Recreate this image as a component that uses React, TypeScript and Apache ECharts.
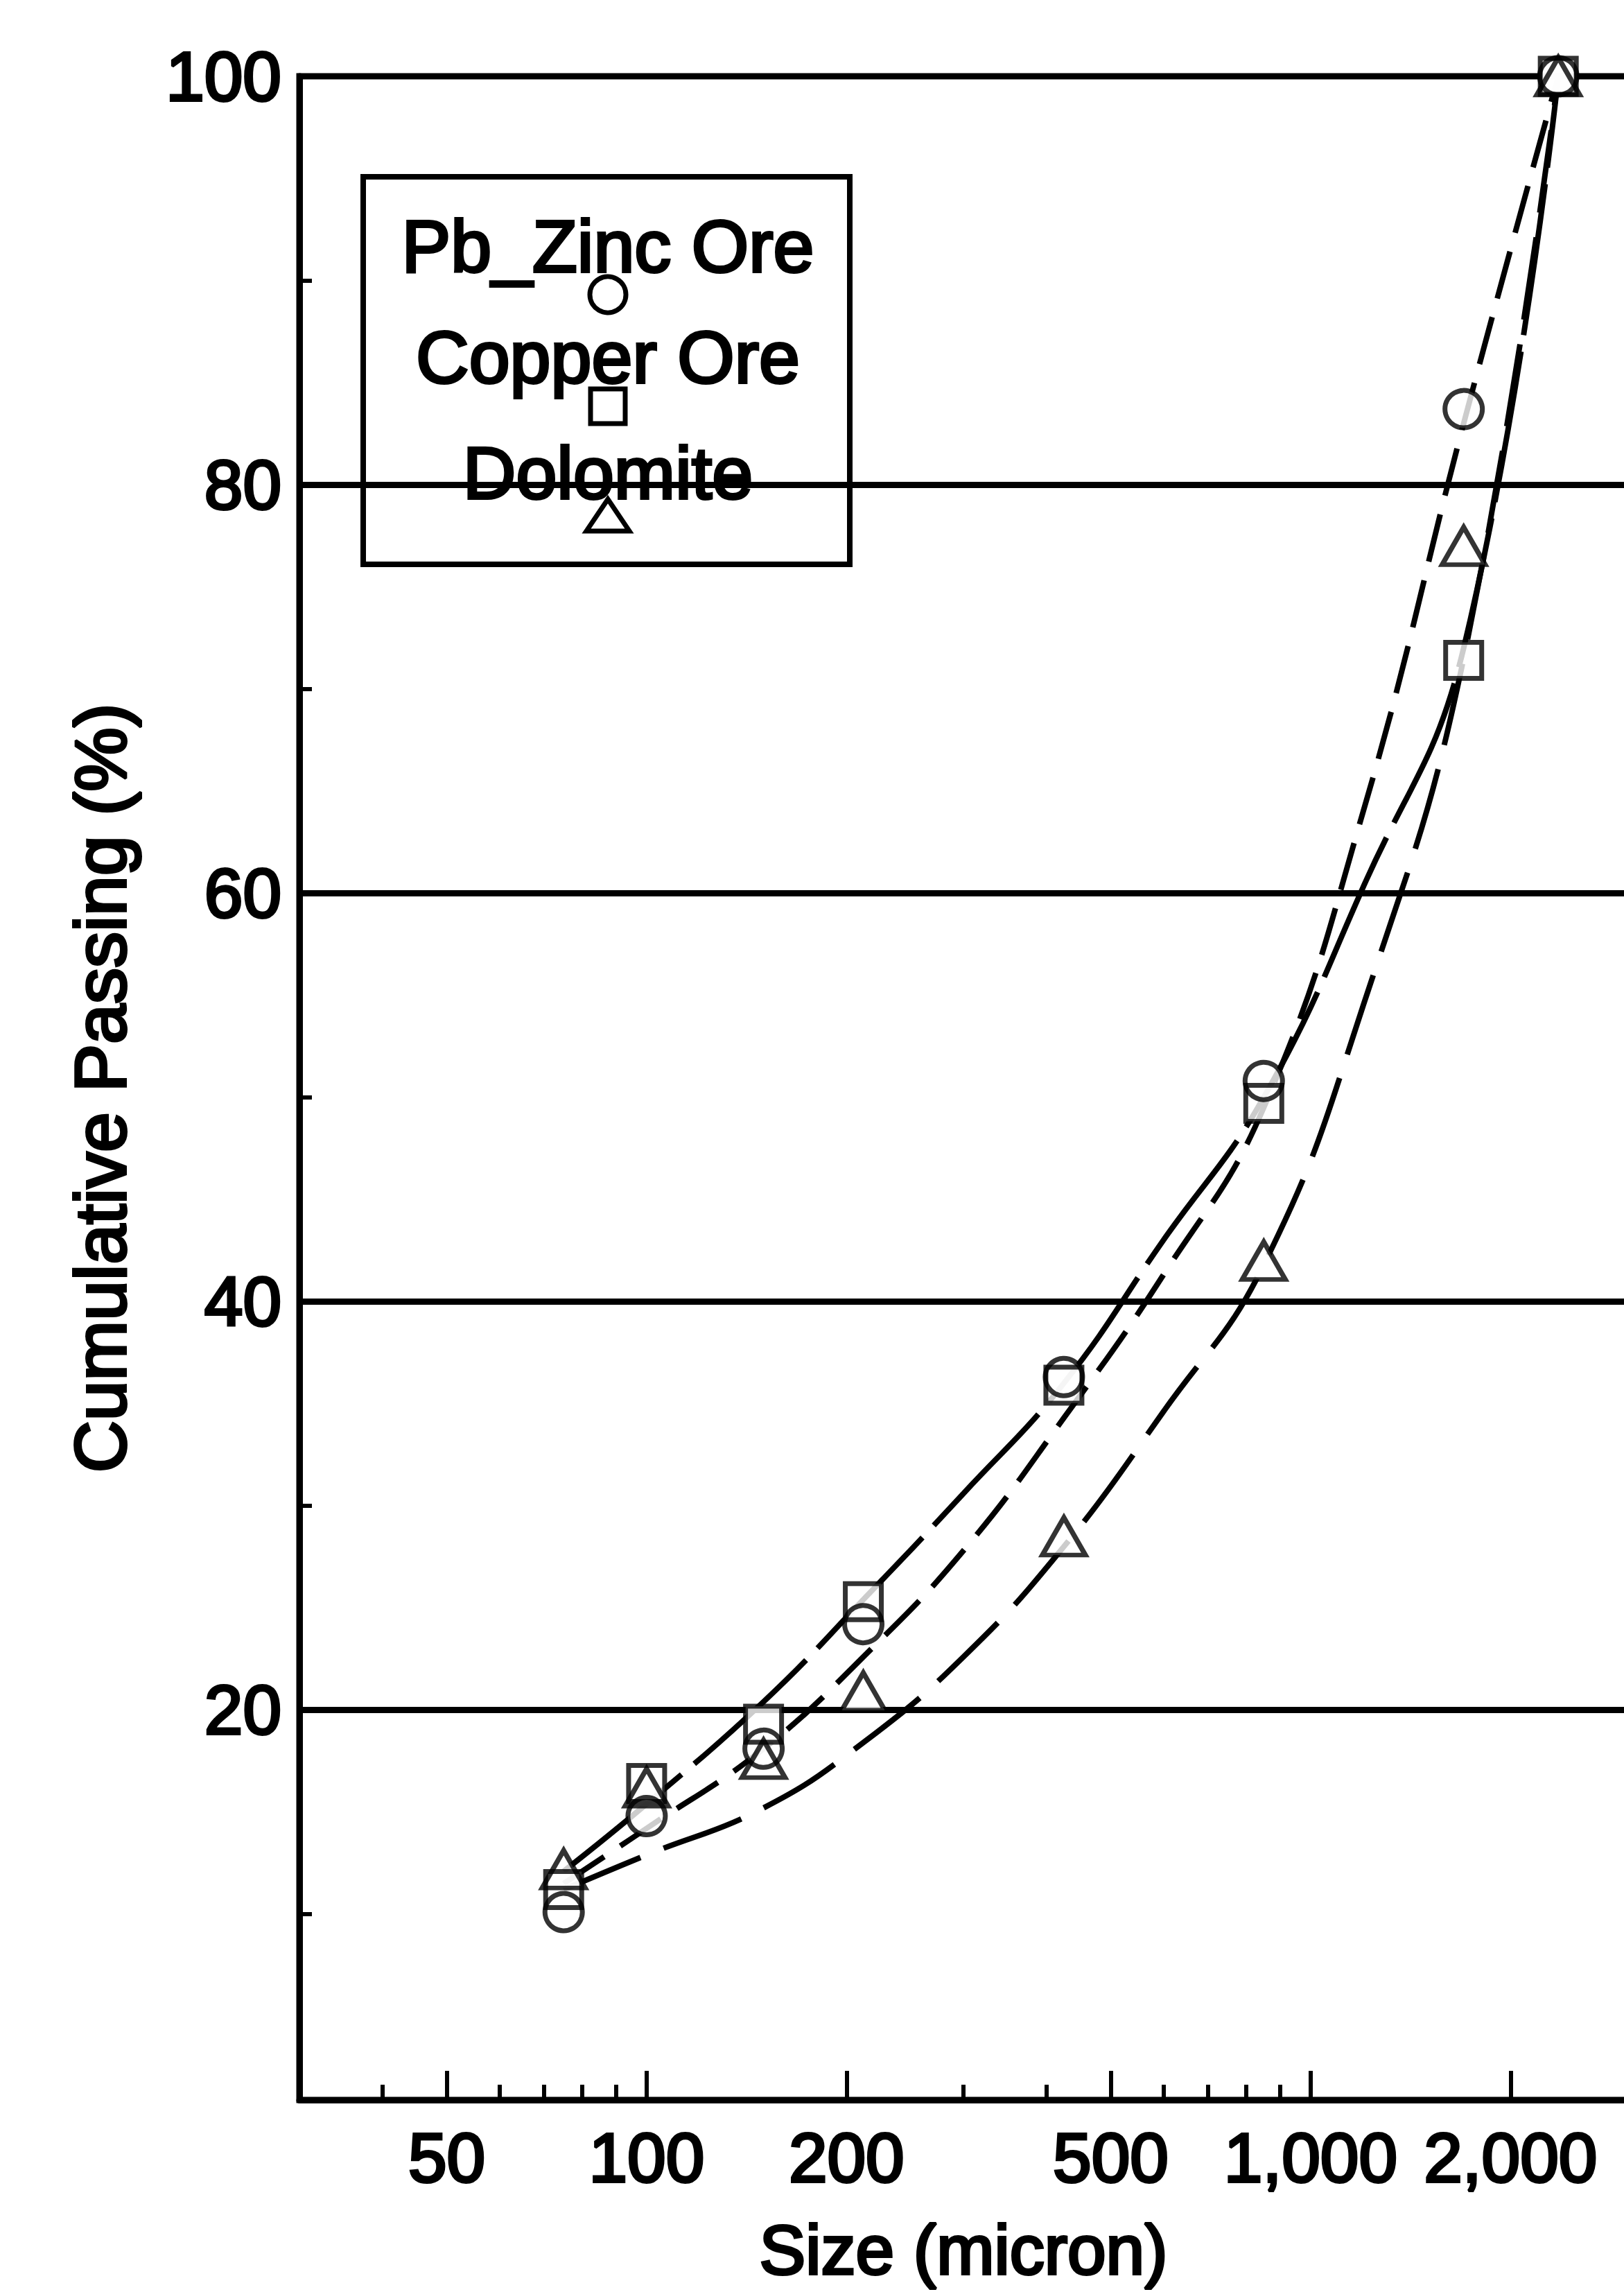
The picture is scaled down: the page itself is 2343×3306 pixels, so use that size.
import React, { useEffect, useRef } from 'react';
import * as echarts from 'echarts';

const sizes = [75, 100, 150, 212, 425, 850, 1700, 2360];
const pbZinc = [10.1, 14.8, 18.1, 24.2, 36.3, 50.8, 83.7, 100];
const copper = [11.2, 16.4, 19.3, 25.3, 35.9, 49.7, 71.4, 100];
const dolomite = [12.2, 16.2, 17.6, 20.9, 28.5, 42.0, 77.0, 100];

// ---- fitted curves ----
const curveSizes = [75, 100, 150, 212, 300, 425, 600, 850, 1200, 1700, 2360];
const pbZincCurve = [11.5, 14.2, 18.1, 22.6, 27.8, 34.3, 41.3, 49.5, 64.0, 83.0, 100];
const copperCurve = [12.1, 15.4, 20.4, 25.4, 30.6, 36.0, 43.0, 50.0, 60.3, 72.0, 100];
const dolomiteCurve = [11.2, 12.9, 15.2, 18.4, 22.6, 28.0, 34.6, 41.8, 54.5, 71.5, 100];

const seriesNames = ['Pb_Zinc Ore', 'Copper Ore', 'Dolomite'];
const xLabelValues = [50, 100, 200, 500, 1000, 2000];
const xMinorTicks = [40, 60, 70, 80, 90, 300, 400, 600, 700, 800, 900];
const yLabelValues = [20, 40, 60, 80, 100];
const yMinorTicks = [10, 30, 50, 70, 90];
const gridLineValues = [20, 40, 60, 80];

const FONT = '"Liberation Sans", Arial, Helvetica, sans-serif';
const W = 2343;
const H = 3306;

const textBase = {
  color: '#000',
  fontFamily: FONT,
  fontSize: 100,
  textBorderColor: '#000',
  textBorderWidth: 4,
};

function fmt(v: number) {
  const n = Math.round(Number(v));
  return n.toString().replace(/\B(?=(\d{3})+(?!\d))/g, ',');
}

export default function App() {
  const ref = useRef<HTMLDivElement>(null);

  useEffect(() => {
    if (!ref.current) return;
    const chart = echarts.init(ref.current, undefined, { renderer: 'svg', width: W, height: H });

    const pointData = [pbZinc, copper, dolomite];
    const curveData = [pbZincCurve, copperCurve, dolomiteCurve];
    const symbols = ['circle', 'rect', 'triangle'];
    const symbolSizes: any[] = [54, 52, [62, 54]];
    const dashes: any[] = [[70, 28], [220, 24], [120, 36]];

    const lineSeries = curveData.map((arr, i) => ({
      name: seriesNames[i],
      type: 'line',
      xAxisIndex: 0,
      yAxisIndex: 0,
      data: curveSizes.map((s, j) => [s, arr[j]]),
      showSymbol: false,
      symbol: 'none',
      smooth: 0.45,
      lineStyle: { color: '#000', width: 8, type: dashes[i] },
      z: 2,
      silent: true,
      ...(i === 0
        ? {
            markLine: {
              silent: true,
              symbol: ['none', 'none'],
              label: { show: false },
              lineStyle: { color: '#000', width: 9, type: 'solid' },
              data: gridLineValues.map((v) => ({ yAxis: v })),
              z: 1,
            },
          }
        : {}),
    }));

    const maskSeries = pointData.map((arr, i) => ({
      name: seriesNames[i] + ' mask',
      type: 'scatter',
      xAxisIndex: 0,
      yAxisIndex: 0,
      data: sizes.map((s, j) => [s, arr[j]]),
      symbol: symbols[i],
      symbolSize: symbolSizes[i],
      itemStyle: { color: '#fff', borderWidth: 0 },
      z: 3,
      silent: true,
    }));

    const markerSeries = pointData.map((arr, i) => ({
      name: seriesNames[i] + ' marker',
      type: 'scatter',
      xAxisIndex: 0,
      yAxisIndex: 0,
      data: sizes.map((s, j) => [s, arr[j]]),
      symbol: symbols[i],
      symbolSize: symbolSizes[i],
      itemStyle: { color: 'rgba(0,0,0,0)', borderColor: '#000', borderWidth: 7 },
      z: 4,
      silent: true,
    }));

    const legendX = 877;
    const legendText = (text: string, y: number) => ({
      type: 'text',
      z: 10,
      style: {
        text,
        x: legendX,
        y,
        textAlign: 'center',
        textVerticalAlign: 'middle',
        fontSize: 106,
        fontFamily: FONT,
        fill: '#000',
        stroke: '#000',
        lineWidth: 4,
      },
    });

    chart.setOption({
      animation: false,
      backgroundColor: '#fff',
      grid: {
        left: 432,
        top: 110,
        right: -5,
        bottom: 277,
        show: true,
        borderColor: '#000',
        borderWidth: 9,
        backgroundColor: 'transparent',
        containLabel: false,
        outerBoundsMode: 'none',
      },
      xAxis: [
        {
          type: 'log',
          logBase: 10,
          min: 30,
          max: 3000,
          position: 'bottom',
          axisLine: { show: true, lineStyle: { color: '#000', width: 9 } },
          axisTick: {
            show: true,
            inside: true,
            length: 42,
            lineStyle: { color: '#000', width: 6 },
            customValues: xLabelValues,
          },
          axisLabel: {
            ...textBase,
            customValues: xLabelValues,
            formatter: (v: number) => fmt(v),
            margin: 33,
          },
          splitLine: { show: false },
          minorTick: { show: false },
          name: 'Size (micron)',
          nameLocation: 'middle',
          nameGap: 166,
          nameTextStyle: { ...textBase, fontSize: 100 },
        },
        {
          type: 'log',
          logBase: 10,
          min: 30,
          max: 3000,
          position: 'bottom',
          offset: 0,
          axisLine: { show: false },
          axisTick: {
            show: true,
            inside: true,
            length: 22,
            lineStyle: { color: '#000', width: 6 },
            customValues: xMinorTicks,
          },
          axisLabel: { show: false },
          splitLine: { show: false },
        },
      ],
      yAxis: {
        type: 'value',
        min: 0.9,
        max: 100,
        axisLine: { show: true, lineStyle: { color: '#000', width: 9 } },
        axisTick: {
          show: true,
          inside: true,
          length: 18,
          lineStyle: { color: '#000', width: 6 },
          customValues: yMinorTicks,
        },
        axisLabel: {
          ...textBase,
          customValues: yLabelValues,
          margin: 26,
        },
        splitLine: { show: false },
        name: 'Cumulative Passing (%)',
        nameLocation: 'middle',
        nameGap: 235,
        nameRotate: 90,
        nameTextStyle: { ...textBase, fontSize: 104 },
      },
      series: [...lineSeries, ...maskSeries, ...markerSeries],
      graphic: [
        {
          type: 'rect',
          z: 10,
          shape: { x: 524, y: 255, width: 702, height: 559 },
          style: { fill: 'none', stroke: '#000', lineWidth: 8 },
        },
        legendText(seriesNames[0], 355),
        legendText(seriesNames[1], 515),
        legendText(seriesNames[2], 682),
        {
          type: 'circle',
          z: 11,
          shape: { cx: legendX, cy: 425, r: 26 },
          style: { fill: 'none', stroke: '#000', lineWidth: 7 },
        },
        {
          type: 'rect',
          z: 11,
          shape: { x: legendX - 25, y: 561, width: 50, height: 50 },
          style: { fill: 'none', stroke: '#000', lineWidth: 7 },
        },
        {
          type: 'polygon',
          z: 11,
          shape: { points: [[legendX - 31, 766], [legendX + 31, 766], [legendX, 720]] },
          style: { fill: 'none', stroke: '#000', lineWidth: 7 },
        },
      ],
    });

    return () => {
      chart.dispose();
    };
  }, []);

  return (
    <div
      ref={ref}
      style={{ position: 'absolute', left: 0, top: 0, width: W, height: H, background: '#fff' }}
    />
  );
}
